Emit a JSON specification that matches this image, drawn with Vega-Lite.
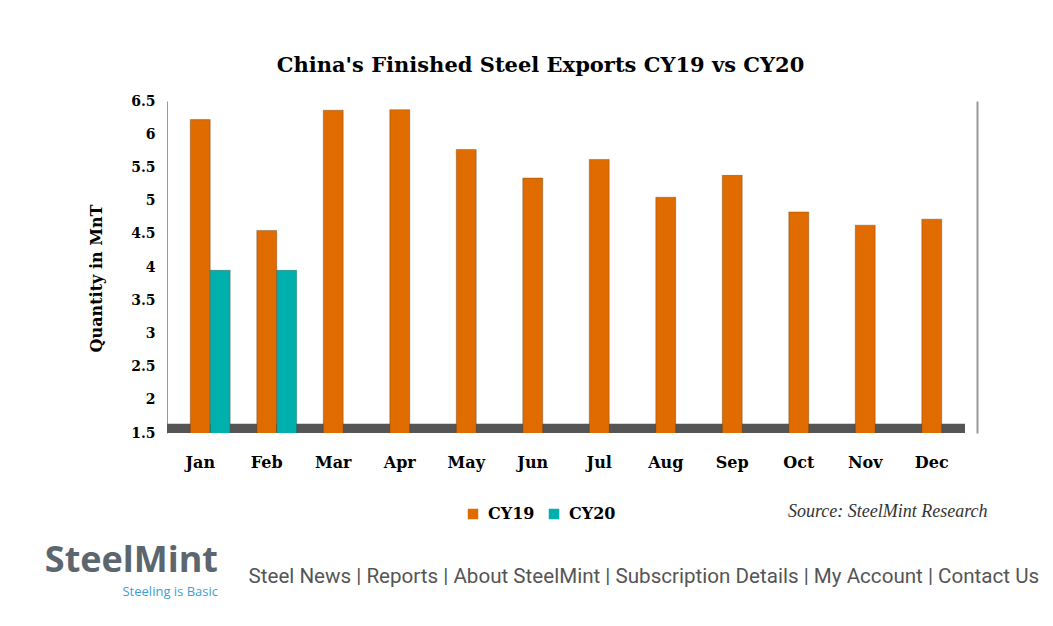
{
  "$schema": "https://vega.github.io/schema/vega-lite/v6.json",
  "width": 798,
  "height": 332,
  "autosize": {"type": "none"},
  "padding": {"left": 167, "top": 101, "right": 88, "bottom": 193},
  "background": "white",
  "title": {
    "text": "SteelMint",
    "subtitle": "Steeling is Basic",
    "orient": "bottom",
    "anchor": "end",
    "frame": "group",
    "dx": -747,
    "offset": -43,
    "font": "Open Sans",
    "fontSize": 36,
    "fontWeight": "bold",
    "color": "#5b666f",
    "subtitleFont": "Open Sans",
    "subtitleFontSize": 13,
    "subtitleColor": "#3a9fd8",
    "subtitlePadding": 6
  },
  "datasets": {
    "exports": [
      {"month": "Jan", "series": "CY19", "value": 6.22},
      {"month": "Jan", "series": "CY20", "value": 3.95},
      {"month": "Feb", "series": "CY19", "value": 4.55},
      {"month": "Feb", "series": "CY20", "value": 3.95},
      {"month": "Mar", "series": "CY19", "value": 6.36},
      {"month": "Apr", "series": "CY19", "value": 6.37},
      {"month": "May", "series": "CY19", "value": 5.77},
      {"month": "Jun", "series": "CY19", "value": 5.34},
      {"month": "Jul", "series": "CY19", "value": 5.62},
      {"month": "Aug", "series": "CY19", "value": 5.05},
      {"month": "Sep", "series": "CY19", "value": 5.38},
      {"month": "Oct", "series": "CY19", "value": 4.83},
      {"month": "Nov", "series": "CY19", "value": 4.63},
      {"month": "Dec", "series": "CY19", "value": 4.72}
    ]
  },
  "layer": [
    {
      "data": {"values": [{}]},
      "mark": {"type": "rect", "color": "#555555"},
      "encoding": {
        "x": {
          "datum": 0,
          "type": "quantitative",
          "scale": {"domain": [0, 1], "nice": false},
          "axis": {
            "orient": "top",
            "labels": false,
            "ticks": false,
            "domain": false,
            "grid": false,
            "title": "China's Finished Steel Exports CY19 vs CY20",
            "titleFont": "DejaVu Serif",
            "titleFontSize": 21,
            "titleFontWeight": "bold",
            "titleColor": "#000000",
            "titleAlign": "center",
            "titleBaseline": "alphabetic",
            "titleX": 373,
            "titleY": -30
          }
        },
        "x2": {"datum": 1},
        "y": {
          "datum": 1.5,
          "type": "quantitative",
          "scale": {"domain": [1.5, 6.5], "nice": false, "zero": false},
          "axis": {
            "orient": "right",
            "labels": false,
            "ticks": false,
            "grid": false,
            "domainColor": "#999999",
            "domainWidth": 2,
            "offset": 12,
            "title": "Steel News | Reports | About SteelMint | Subscription Details | My Account | Contact Us",
            "titleAngle": 0,
            "titleAlign": "left",
            "titleBaseline": "alphabetic",
            "titleX": -729,
            "titleY": 481,
            "titleLimit": 900,
            "titleFont": "Roboto",
            "titleFontSize": 20.6,
            "titleFontWeight": "normal",
            "titleColor": "#555555"
          }
        },
        "y2": {"datum": 1.64}
      }
    },
    {
      "data": {"name": "exports"},
      "mark": {"type": "bar", "clip": true, "stroke": "#3a2410", "strokeWidth": 0.6, "strokeOpacity": 0.5},
      "encoding": {
        "x": {
          "field": "month",
          "type": "nominal",
          "sort": ["Jan", "Feb", "Mar", "Apr", "May", "Jun", "Jul", "Aug", "Sep", "Oct", "Nov", "Dec"],
          "scale": {"paddingInner": 0.1, "paddingOuter": 0.05},
          "axis": {
            "orient": "bottom",
            "domain": false,
            "ticks": false,
            "labelAngle": 0,
            "labelPadding": 21,
            "labelFont": "DejaVu Serif",
            "labelFontSize": 16,
            "labelFontWeight": "bold",
            "labelColor": "#000000",
            "title": "Source: SteelMint Research",
            "titleFont": "Liberation Serif",
            "titleFontStyle": "italic",
            "titleFontWeight": "normal",
            "titleFontSize": 18,
            "titleColor": "#333333",
            "titleAlign": "right",
            "titleBaseline": "middle",
            "titleX": 820,
            "titleY": 78
          }
        },
        "xOffset": {
          "field": "series",
          "type": "nominal",
          "scale": {"domain": [" ", "CY19", "CY20"], "paddingInner": 0, "paddingOuter": 0}
        },
        "y": {
          "field": "value",
          "type": "quantitative",
          "scale": {"domain": [1.5, 6.5], "nice": false, "zero": false},
          "axis": {
            "orient": "left",
            "values": [1.5, 2, 2.5, 3, 3.5, 4, 4.5, 5, 5.5, 6, 6.5],
            "format": "~g",
            "grid": false,
            "ticks": false,
            "tickSize": 0,
            "domainColor": "#999999",
            "labelPadding": 12,
            "labelFont": "DejaVu Serif",
            "labelFontSize": 14,
            "labelFontWeight": "bold",
            "labelColor": "#000000",
            "title": "Quantity in MnT",
            "titleFont": "DejaVu Serif",
            "titleFontSize": 16,
            "titleFontWeight": "bold",
            "titleColor": "#000000",
            "titlePadding": 26,
            "titleY": 177
          }
        },
        "color": {
          "field": "series",
          "type": "nominal",
          "scale": {"domain": ["CY19", "CY20"], "range": ["#E06C00", "#00B0AC"]},
          "legend": {
            "orient": "none",
            "direction": "horizontal",
            "legendX": 298,
            "legendY": 405,
            "title": null,
            "symbolType": "square",
            "symbolSize": 110,
            "symbolStrokeWidth": 0,
            "labelFont": "DejaVu Serif",
            "labelFontSize": 16,
            "labelFontWeight": "bold",
            "labelColor": "#000000",
            "labelOffset": 7,
            "columnPadding": 11
          }
        }
      }
    }
  ],
  "resolve": {
    "scale": {"x": "independent"},
    "axis": {"x": "independent", "y": "independent"}
  },
  "config": {"view": {"stroke": null}}
}
